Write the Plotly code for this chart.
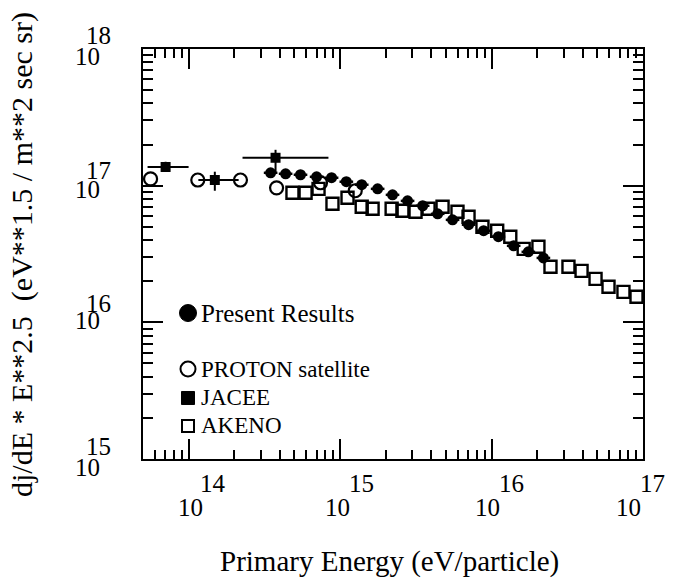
import plotly.graph_objects as go

# ---------------- data ----------------
# Present Results (filled circles): energy in eV, flux in eV^1.5 m^-2 s^-1 sr^-1
present_E = [3.48e14, 4.37e14, 5.48e14, 7.00e14, 8.79e14, 1.10e15, 1.39e15, 1.77e15,
             2.22e15, 2.79e15, 3.51e15, 4.41e15, 5.53e15, 7.06e15, 8.87e15, 1.11e16,
             1.40e16, 1.75e16, 2.20e16]
present_F = [12.42e16, 12.22e16, 12.02e16, 11.61e16, 11.43e16, 10.69e16, 10.16e16, 9.48e16,
             8.57e16, 7.74e16, 7.13e16, 6.22e16, 5.62e16, 5.18e16, 4.68e16, 4.23e16,
             3.63e16, 3.28e16, 2.96e16]
present_bin_half_dex = 0.045

# PROTON satellite (open circles)
proton_E = [5.61e13, 1.15e14, 2.20e14, 3.81e14, 7.43e14, 1.26e15]
proton_F = [11.2e16, 11.0e16, 11.0e16, 9.64e16, 10.5e16, 9.18e16]

# JACEE (filled squares with error bars)
jacee_E = [7.05e13, 1.49e14, 3.75e14]
jacee_F = [13.7e16, 11.0e16, 16.0e16]
jacee_E_lo = [5.36e13, 1.16e14, 2.27e14]
jacee_E_hi = [1.00e14, 2.14e14, 8.38e14]
jacee_F_lo = [12.65e16, 9.18e16, 12.4e16]
jacee_F_hi = [14.96e16, 12.65e16, 18.3e16]

# AKENO (open squares)
akeno_E = [4.85e14, 5.92e14, 7.21e14, 8.91e14, 1.12e15, 1.39e15, 1.64e15, 2.19e15,
           2.58e15, 3.15e15, 3.84e15, 4.75e15, 5.96e15, 7.05e15, 8.71e15, 1.09e16,
           1.33e16, 1.63e16, 2.04e16, 2.45e16, 3.22e16, 3.93e16, 4.86e16, 5.92e16,
           7.43e16, 9.06e16]
akeno_F = [8.87e16, 8.87e16, 9.48e16, 7.38e16, 8.15e16, 7.01e16, 6.78e16, 6.78e16,
           6.56e16, 6.45e16, 6.78e16, 7.01e16, 6.45e16, 5.92e16, 5.00e16, 4.68e16,
           4.23e16, 3.45e16, 3.57e16, 2.55e16, 2.55e16, 2.38e16, 2.08e16, 1.82e16,
           1.67e16, 1.54e16]

x_decades = [14, 15, 16, 17]
y_decades = [15, 16, 17, 18]

legend_labels = ["Present Results", "PROTON satellite", "JACEE", "AKENO"]

# ---------------- figure ----------------
FONT = "Liberation Serif, Times New Roman, serif"
fig = go.Figure()

# present results with bin-width bars
p_plus = [e * (10 ** present_bin_half_dex - 1) for e in present_E]
p_minus = [e * (1 - 10 ** -present_bin_half_dex) for e in present_E]
fig.add_trace(go.Scatter(
    x=present_E, y=present_F, mode="markers",
    marker=dict(symbol="circle", size=11, color="black"),
    error_x=dict(type="data", symmetric=False, array=p_plus, arrayminus=p_minus,
                 width=0, thickness=2.5, color="black"),
    showlegend=False))

fig.add_trace(go.Scatter(
    x=proton_E, y=proton_F, mode="markers",
    marker=dict(symbol="circle-open", size=13, color="black", line=dict(width=2.2)),
    showlegend=False))

fig.add_trace(go.Scatter(
    x=akeno_E, y=akeno_F, mode="markers",
    marker=dict(symbol="square-open", size=12, color="black", line=dict(width=2.4)),
    showlegend=False))

j_xp = [h - c for h, c in zip(jacee_E_hi, jacee_E)]
j_xm = [c - l for l, c in zip(jacee_E_lo, jacee_E)]
j_yp = [h - c for h, c in zip(jacee_F_hi, jacee_F)]
j_ym = [c - l for l, c in zip(jacee_F_lo, jacee_F)]
fig.add_trace(go.Scatter(
    x=jacee_E, y=jacee_F, mode="markers",
    marker=dict(symbol="square", size=10, color="black"),
    error_x=dict(type="data", symmetric=False, array=j_xp, arrayminus=j_xm,
                 width=0, thickness=2, color="black"),
    error_y=dict(type="data", symmetric=False, array=j_yp, arrayminus=j_ym,
                 width=0, thickness=2, color="black"),
    showlegend=False))

x_minor = [k * 10.0 ** d for d in range(13, 17) for k in range(2, 10)]
y_minor = [k * 10.0 ** d for d in range(15, 18) for k in range(2, 10)]

axis_common = dict(type="log", showline=True, linewidth=2, linecolor="black",
                   mirror="ticks", ticks="inside", ticklen=20, tickwidth=2,
                   tickcolor="black", showticklabels=False, showgrid=False,
                   zeroline=False)
fig.update_xaxes(range=[13.699, 17], tickvals=[10.0 ** d for d in x_decades],
                 minor=dict(ticks="inside", ticklen=9, tickwidth=2, tickcolor="black",
                            tickvals=x_minor, showgrid=False),
                 **axis_common)
fig.update_yaxes(range=[15, 18], tickvals=[10.0 ** d for d in y_decades],
                 minor=dict(ticks="inside", ticklen=10, tickwidth=2, tickcolor="black",
                            tickvals=y_minor, showgrid=False),
                 **axis_common)

ann = []
lab_font = dict(family=FONT, size=25, color="black")
# y tick labels (10 with big exponent)
y_base_dy = [8.5, -2.3, 3.8, 7.5]
y_exp_dy = [-12.5, -18.8, -15.2, -14]
for d, bdy, edy in zip(y_decades, y_base_dy, y_exp_dy):
    ann.append(dict(text="10", xref="paper", x=0, yref="y", y=d, xanchor="center",
                    yanchor="middle", xshift=-55.5, yshift=-bdy, showarrow=False, font=lab_font))
    ann.append(dict(text=str(d), xref="paper", x=0, yref="y", y=d, xanchor="center",
                    yanchor="middle", xshift=-44.5, yshift=-edy, showarrow=False, font=lab_font))
# x tick labels
x_base_dx = [2, -2.2, -3.9, -14.5]
x_exp_dx = [24.5, 21.8, 20.1, 9.5]
for d, bdx, edx in zip(x_decades, x_base_dx, x_exp_dx):
    ann.append(dict(text="10", xref="x", x=d, yref="paper", y=0, xanchor="center",
                    yanchor="middle", xshift=bdx, yshift=-48, showarrow=False, font=lab_font))
    ann.append(dict(text=str(d), xref="x", x=d, yref="paper", y=0, xanchor="center",
                    yanchor="middle", xshift=edx, yshift=-24.5, showarrow=False, font=lab_font))

# axis titles
ann.append(dict(text="Primary Energy (eV/particle)", xref="paper", x=0.492, yref="paper", y=0,
                xanchor="center", yanchor="middle", yshift=-102, showarrow=False,
                font=dict(family=FONT, size=29, color="black")))
ann.append(dict(text="dj/dE * E**2.5  (eV**1.5 / m**2 sec sr)", xref="paper", x=0,
                yref="paper", y=0.4976, xanchor="center", yanchor="middle", xshift=-121,
                textangle=-90, showarrow=False,
                font=dict(family=FONT, size=30, color="black")))

# legend (inside plot)
leg_y = [0.356, 0.2195, 0.1488, 0.0805]
leg_size = [25, 23, 23, 23]
for lab, ly, fs in zip(legend_labels, leg_y, leg_size):
    ann.append(dict(text=lab, xref="paper", x=0.112, yref="paper", y=ly, xanchor="left",
                    yanchor="middle", showarrow=False,
                    font=dict(family=FONT, size=fs, color="black")))

shapes = []
leg_x = 0.09
shapes.append(dict(type="circle", xref="paper", yref="paper", xsizemode="pixel",
                   ysizemode="pixel", xanchor=leg_x, yanchor=leg_y[0], x0=-8.5, x1=8.5,
                   y0=-8.5, y1=8.5, fillcolor="black", line=dict(color="black", width=1)))
shapes.append(dict(type="circle", xref="paper", yref="paper", xsizemode="pixel",
                   ysizemode="pixel", xanchor=leg_x, yanchor=leg_y[1], x0=-7.5, x1=7.5,
                   y0=-7.5, y1=7.5, fillcolor="white", line=dict(color="black", width=2)))
shapes.append(dict(type="rect", xref="paper", yref="paper", xsizemode="pixel",
                   ysizemode="pixel", xanchor=leg_x, yanchor=leg_y[2], x0=-6.5, x1=6.5,
                   y0=-6.5, y1=6.5, fillcolor="black", line=dict(color="black", width=1)))
shapes.append(dict(type="rect", xref="paper", yref="paper", xsizemode="pixel",
                   ysizemode="pixel", xanchor=leg_x, yanchor=leg_y[3], x0=-6, x1=6,
                   y0=-6, y1=6, fillcolor="white", line=dict(color="black", width=2)))

fig.update_layout(width=695, height=578, margin=dict(l=143, r=52, t=49, b=119),
                  plot_bgcolor="white", paper_bgcolor="white", showlegend=False,
                  annotations=ann, shapes=shapes,
                  font=dict(family=FONT, color="black"))

fig.write_html("out.html")
